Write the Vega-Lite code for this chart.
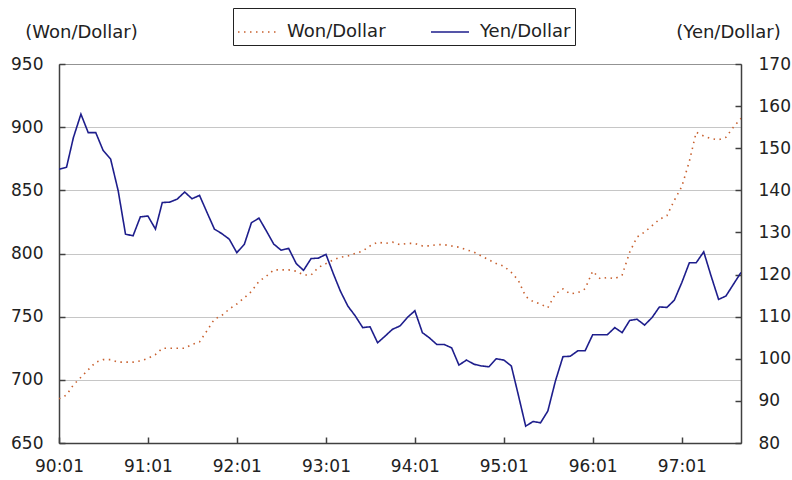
{
  "$schema": "https://vega.github.io/schema/vega-lite/v6.json",
  "width": 682,
  "height": 379,
  "autosize": {"type": "none"},
  "padding": {"left": 59, "top": 64, "right": 51, "bottom": 37},
  "background": "white",
  "config": {
    "font": "DejaVu Sans",
    "view": {"stroke": "#999999", "strokeWidth": 1},
    "axis": {
      "labelFont": "DejaVu Sans",
      "labelFontSize": 17,
      "labelColor": "#222222",
      "titleFont": "DejaVu Sans",
      "titleFontSize": 18,
      "titleFontWeight": "normal",
      "titleColor": "#222222",
      "domainColor": "#404040",
      "domainWidth": 1.5,
      "tickColor": "#404040",
      "tickWidth": 1.5,
      "tickSize": -6
    }
  },
  "data": {
    "values": [
      {"date": "1990-01-01", "won": 685, "yen": 145.0},
      {"date": "1990-02-01", "won": 688, "yen": 145.5},
      {"date": "1990-03-01", "won": 696, "yen": 152.5},
      {"date": "1990-04-01", "won": 702, "yen": 158.1},
      {"date": "1990-05-01", "won": 708, "yen": 153.7},
      {"date": "1990-06-01", "won": 714, "yen": 153.7},
      {"date": "1990-07-01", "won": 716, "yen": 149.5},
      {"date": "1990-08-01", "won": 716, "yen": 147.4},
      {"date": "1990-09-01", "won": 714, "yen": 139.9},
      {"date": "1990-10-01", "won": 714, "yen": 129.6},
      {"date": "1990-11-01", "won": 714, "yen": 129.2},
      {"date": "1990-12-01", "won": 715, "yen": 133.7},
      {"date": "1991-01-01", "won": 717, "yen": 133.9},
      {"date": "1991-02-01", "won": 720, "yen": 130.8},
      {"date": "1991-03-01", "won": 725, "yen": 137.1},
      {"date": "1991-04-01", "won": 725, "yen": 137.2},
      {"date": "1991-05-01", "won": 725, "yen": 137.9},
      {"date": "1991-06-01", "won": 725, "yen": 139.6},
      {"date": "1991-07-01", "won": 728, "yen": 138.0},
      {"date": "1991-08-01", "won": 730, "yen": 138.8},
      {"date": "1991-09-01", "won": 739, "yen": 134.7},
      {"date": "1991-10-01", "won": 748, "yen": 130.8},
      {"date": "1991-11-01", "won": 751, "yen": 129.7},
      {"date": "1991-12-01", "won": 756, "yen": 128.4},
      {"date": "1992-01-01", "won": 760, "yen": 125.2},
      {"date": "1992-02-01", "won": 765, "yen": 127.2},
      {"date": "1992-03-01", "won": 770, "yen": 132.3},
      {"date": "1992-04-01", "won": 778, "yen": 133.4},
      {"date": "1992-05-01", "won": 782, "yen": 130.4},
      {"date": "1992-06-01", "won": 787, "yen": 127.2},
      {"date": "1992-07-01", "won": 787, "yen": 125.8},
      {"date": "1992-08-01", "won": 787, "yen": 126.2},
      {"date": "1992-09-01", "won": 786, "yen": 122.6},
      {"date": "1992-10-01", "won": 783, "yen": 121.0},
      {"date": "1992-11-01", "won": 783, "yen": 123.8},
      {"date": "1992-12-01", "won": 789, "yen": 123.9},
      {"date": "1993-01-01", "won": 792, "yen": 124.8},
      {"date": "1993-02-01", "won": 795, "yen": 120.1},
      {"date": "1993-03-01", "won": 797, "yen": 116.1},
      {"date": "1993-04-01", "won": 798, "yen": 112.5},
      {"date": "1993-05-01", "won": 800, "yen": 110.2},
      {"date": "1993-06-01", "won": 802, "yen": 107.4},
      {"date": "1993-07-01", "won": 806, "yen": 107.6},
      {"date": "1993-08-01", "won": 809, "yen": 103.8},
      {"date": "1993-09-01", "won": 808, "yen": 105.4},
      {"date": "1993-10-01", "won": 809, "yen": 107.0},
      {"date": "1993-11-01", "won": 807, "yen": 107.8},
      {"date": "1993-12-01", "won": 808, "yen": 109.8},
      {"date": "1994-01-01", "won": 808, "yen": 111.4},
      {"date": "1994-02-01", "won": 806, "yen": 106.2},
      {"date": "1994-03-01", "won": 806, "yen": 105.0},
      {"date": "1994-04-01", "won": 807, "yen": 103.4},
      {"date": "1994-05-01", "won": 807, "yen": 103.4},
      {"date": "1994-06-01", "won": 806, "yen": 102.6},
      {"date": "1994-07-01", "won": 805, "yen": 98.5},
      {"date": "1994-08-01", "won": 803, "yen": 99.7},
      {"date": "1994-09-01", "won": 801, "yen": 98.7},
      {"date": "1994-10-01", "won": 798, "yen": 98.3},
      {"date": "1994-11-01", "won": 795, "yen": 98.1},
      {"date": "1994-12-01", "won": 792, "yen": 100.0},
      {"date": "1995-01-01", "won": 790, "yen": 99.7},
      {"date": "1995-02-01", "won": 785, "yen": 98.3},
      {"date": "1995-03-01", "won": 779, "yen": 91.6},
      {"date": "1995-04-01", "won": 766, "yen": 84.0},
      {"date": "1995-05-01", "won": 762, "yen": 85.1},
      {"date": "1995-06-01", "won": 760, "yen": 84.8},
      {"date": "1995-07-01", "won": 757, "yen": 87.6},
      {"date": "1995-08-01", "won": 768, "yen": 94.7},
      {"date": "1995-09-01", "won": 772, "yen": 100.5},
      {"date": "1995-10-01", "won": 768, "yen": 100.6},
      {"date": "1995-11-01", "won": 769, "yen": 101.9},
      {"date": "1995-12-01", "won": 772, "yen": 101.9},
      {"date": "1996-01-01", "won": 786, "yen": 105.7},
      {"date": "1996-02-01", "won": 780, "yen": 105.7},
      {"date": "1996-03-01", "won": 781, "yen": 105.7},
      {"date": "1996-04-01", "won": 780, "yen": 107.4},
      {"date": "1996-05-01", "won": 783, "yen": 106.2},
      {"date": "1996-06-01", "won": 801, "yen": 109.1},
      {"date": "1996-07-01", "won": 813, "yen": 109.4},
      {"date": "1996-08-01", "won": 817, "yen": 108.0},
      {"date": "1996-09-01", "won": 822, "yen": 109.8},
      {"date": "1996-10-01", "won": 827, "yen": 112.3},
      {"date": "1996-11-01", "won": 830, "yen": 112.2},
      {"date": "1996-12-01", "won": 842, "yen": 113.9},
      {"date": "1997-01-01", "won": 853, "yen": 118.1},
      {"date": "1997-02-01", "won": 873, "yen": 122.8},
      {"date": "1997-03-01", "won": 896, "yen": 122.8},
      {"date": "1997-04-01", "won": 893, "yen": 125.4},
      {"date": "1997-05-01", "won": 891, "yen": 119.7},
      {"date": "1997-06-01", "won": 890, "yen": 114.1},
      {"date": "1997-07-01", "won": 892, "yen": 114.9},
      {"date": "1997-08-01", "won": 900, "yen": 117.7},
      {"date": "1997-09-01", "won": 907, "yen": 120.5}
    ]
  },
  "encoding": {
    "x": {
      "field": "date",
      "type": "temporal",
      "timeUnit": "utcyearmonth",
      "scale": {
        "domain": [
          {"year": 1990, "month": 1, "date": 1, "utc": true},
          {"year": 1997, "month": 9, "date": 1, "utc": true}
        ]
      },
      "axis": {
        "title": null,
        "grid": false,
        "labelExpr": "utcFormat(datum.value, '%y:%m')",
        "labelPadding": 21,
        "labelFlush": false,
        "values": [
          {"year": 1990, "month": 1, "date": 1, "utc": true},
          {"year": 1991, "month": 1, "date": 1, "utc": true},
          {"year": 1992, "month": 1, "date": 1, "utc": true},
          {"year": 1993, "month": 1, "date": 1, "utc": true},
          {"year": 1994, "month": 1, "date": 1, "utc": true},
          {"year": 1995, "month": 1, "date": 1, "utc": true},
          {"year": 1996, "month": 1, "date": 1, "utc": true},
          {"year": 1997, "month": 1, "date": 1, "utc": true}
        ]
      }
    }
  },
  "layer": [
    {
      "mark": {"type": "line", "strokeWidth": 1.6, "clip": true},
      "encoding": {
        "y": {
          "field": "won",
          "type": "quantitative",
          "scale": {"domain": [650, 950], "nice": false, "zero": false},
          "axis": {
            "orient": "left",
            "values": [650, 700, 750, 800, 850, 900, 950],
            "grid": true,
            "gridColor": "#8c8c8c",
            "gridDash": [1, 1],
            "gridWidth": 1,
            "labelPadding": 22,
            "title": "(Won/Dollar)",
            "titleAngle": 0,
            "titleX": 22,
            "titleY": -32,
            "titleAlign": "center",
            "titleBaseline": "middle"
          }
        },
        "color": {
          "datum": "Won/Dollar",
          "type": "nominal",
          "scale": {"domain": ["Won/Dollar", "Yen/Dollar"], "range": ["#c8602e", "#1e1e8c"]},
          "legend": {
            "title": null,
            "orient": "none",
            "legendX": 174,
            "legendY": -56,
            "direction": "horizontal",
            "symbolType": "stroke",
            "symbolSize": 1444,
            "symbolStrokeWidth": 1.5,
            "labelFont": "DejaVu Sans",
            "labelFontSize": 18,
            "labelColor": "#222222",
            "labelOffset": 10,
            "columnPadding": 42,
            "padding": 4,
            "strokeColor": "#222222"
          }
        },
        "strokeDash": {
          "datum": "Won/Dollar",
          "type": "nominal",
          "scale": {"domain": ["Won/Dollar", "Yen/Dollar"], "range": [[1.5, 4.5], [1, 0]]},
          "legend": {
            "title": null,
            "orient": "none",
            "legendX": 174,
            "legendY": -56,
            "direction": "horizontal",
            "symbolType": "stroke",
            "symbolSize": 1444,
            "symbolStrokeWidth": 1.5,
            "labelFont": "DejaVu Sans",
            "labelFontSize": 18,
            "labelColor": "#222222",
            "labelOffset": 10,
            "columnPadding": 42,
            "padding": 4,
            "strokeColor": "#222222"
          }
        }
      }
    },
    {
      "mark": {"type": "line", "strokeWidth": 1.6, "clip": true},
      "encoding": {
        "y": {
          "field": "yen",
          "type": "quantitative",
          "scale": {"domain": [80, 170], "nice": false, "zero": false},
          "axis": {
            "orient": "right",
            "values": [80, 90, 100, 110, 120, 130, 140, 150, 160, 170],
            "grid": false,
            "labelPadding": 23,
            "title": "(Yen/Dollar)",
            "titleAngle": 0,
            "titleX": -13,
            "titleY": -32,
            "titleAlign": "center",
            "titleBaseline": "middle"
          }
        },
        "color": {"datum": "Yen/Dollar", "type": "nominal"},
        "strokeDash": {"datum": "Yen/Dollar", "type": "nominal"}
      }
    }
  ],
  "resolve": {"scale": {"y": "independent"}}
}
